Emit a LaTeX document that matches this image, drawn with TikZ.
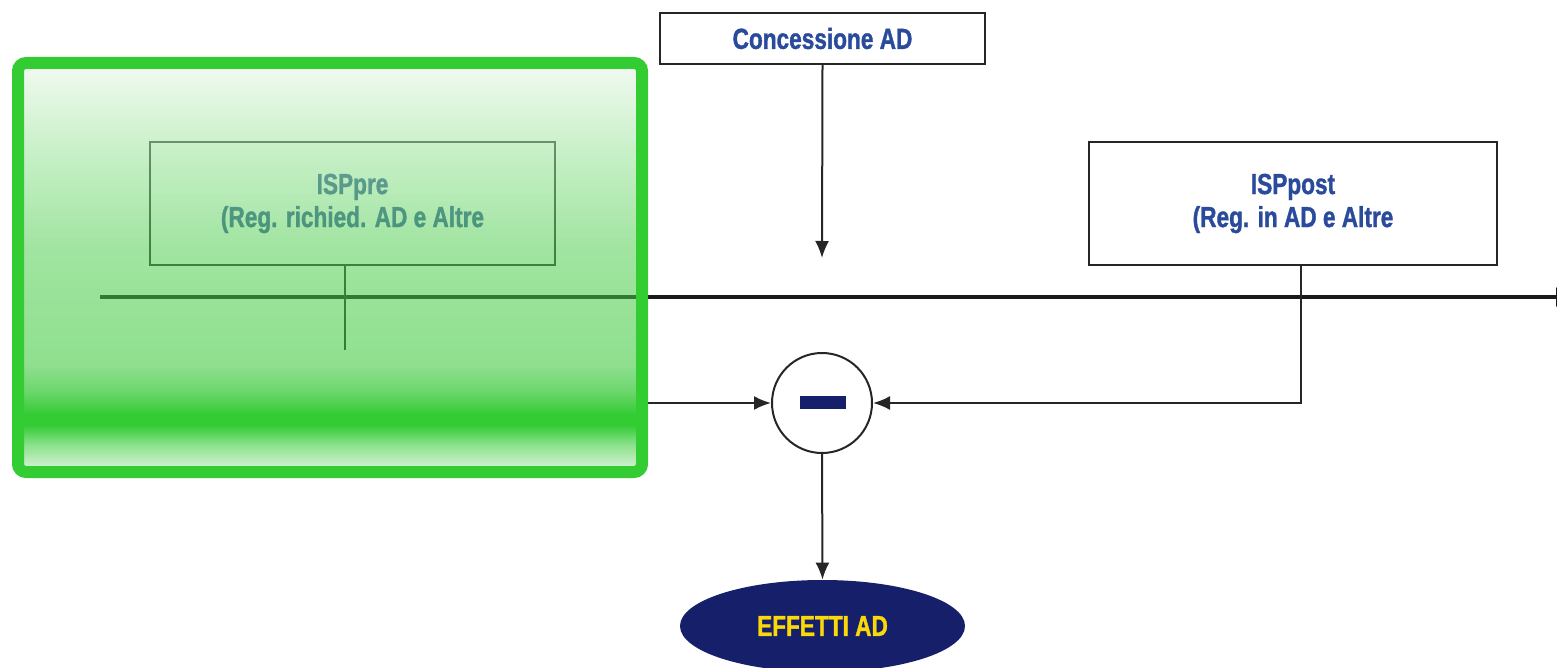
\documentclass[tikz,border=0pt]{standalone}
\usepackage{fontspec}
\setmainfont{Liberation Sans}
\newfontfamily\condfont{Liberation Sans Bold}[FakeStretch=0.78, FakeBold=1.2]
\usetikzlibrary{arrows.meta,shapes.geometric}
\definecolor{txtblue}{RGB}{42,74,155}
\definecolor{navy}{RGB}{22,32,106}
\definecolor{yel}{RGB}{250,216,10}
\definecolor{grn}{RGB}{51,204,51}
% upper (semi-transparent) part
\definecolor{uA}{RGB}{55,199,55}
\definecolor{uB}{RGB}{82,206,82}
\definecolor{uC}{RGB}{155,228,155}
\definecolor{uD}{RGB}{231,246,231}
% lower (opaque) part
\definecolor{lA}{RGB}{215,242,215}
\definecolor{lB}{RGB}{205,240,205}
\definecolor{lC}{RGB}{140,225,140}
\definecolor{lD}{RGB}{51,204,51}
\definecolor{lE}{RGB}{110,215,110}
\definecolor{lF}{RGB}{143,223,143}
\definecolor{lG}{RGB}{145,224,145}
\pgfdeclareverticalshading{greenupper}{100bp}{%
 color(0bp)=(uA); color(25bp)=(uA); color(42.4bp)=(uB);
 color(59.8bp)=(uC); color(75bp)=(uD); color(100bp)=(uD)}
\pgfdeclareverticalshading{greenlower}{100bp}{%
 color(0bp)=(lA); color(25bp)=(lA); color(27.5bp)=(lB); color(36.1bp)=(lC);
 color(44.3bp)=(lD); color(48.4bp)=(lD); color(58.6bp)=(lE);
 color(68.9bp)=(lF); color(75bp)=(lG); color(100bp)=(lG)}
\tikzset{
  box/.style={draw=black!85, line width=1pt, fill=white, inner sep=0pt,
    font=\condfont\fontsize{14.5}{16.5}\selectfont, text=txtblue, align=center},
  conn/.style={draw=black!85, line width=1pt},
  arr/.style={conn, -{Latex[length=8.5pt,width=7pt]}},
  timeline/.style={draw=black!90, line width=1.7pt},
}
\begin{document}
\begin{tikzpicture}[x=0.5pt,y=-0.5pt]
\useasboundingbox (0,0) rectangle (1557,668);
% nodes
\node[box, minimum width=162.5pt, minimum height=25.5pt] (conc) at (822.5,38.5) {\raisebox{-1pt}{Concessione AD}};
\node[box, minimum width=202.5pt, minimum height=61.5pt] (pre) at (352.5,203.5) {ISPpre\\(Reg. richied. AD e Altre};
\node[box, minimum width=204pt, minimum height=61.5pt] (post) at (1293,203.5) {ISPpost\\(Reg. in AD e Altre};
\node[circle, draw=black!85, line width=1pt, minimum size=50pt, inner sep=0pt] (minus) at (822,403) {};
\fill[navy] (800,396) rectangle (846,409);
\node[ellipse, fill=navy, minimum width=142.5pt, minimum height=46pt, inner sep=0pt,
  font=\condfont\fontsize{14.5}{16}\selectfont, text=yel] (eff) at (822.5,626) {EFFETTI AD};
% timeline
\coordinate (t0) at (100,297);
\coordinate (t1) at (1580,297);
\draw[timeline, -{Latex[length=12pt,width=10pt]}] (t0) -- (t1);
% connectors
\coordinate (gap) at (822,258);
\draw[arr] (conc.south) -- (gap);
\draw[arr] (pre.south -| 345,0) -- (345,403) -- (minus.west);
\draw[arr] (post.south -| 1301,0) -- (1301,403) -- (minus.east);
\draw[arr] (minus.south) -- (eff.north);
% green overlay
\shade[shading=greenupper, opacity=0.55] (18,63) rectangle (642,350);
\shade[shading=greenlower] (18,350) rectangle (642,472);
\draw[grn, line width=6pt, rounded corners=4pt] (18,63) rectangle (642,472);
\end{tikzpicture}
\end{document}
